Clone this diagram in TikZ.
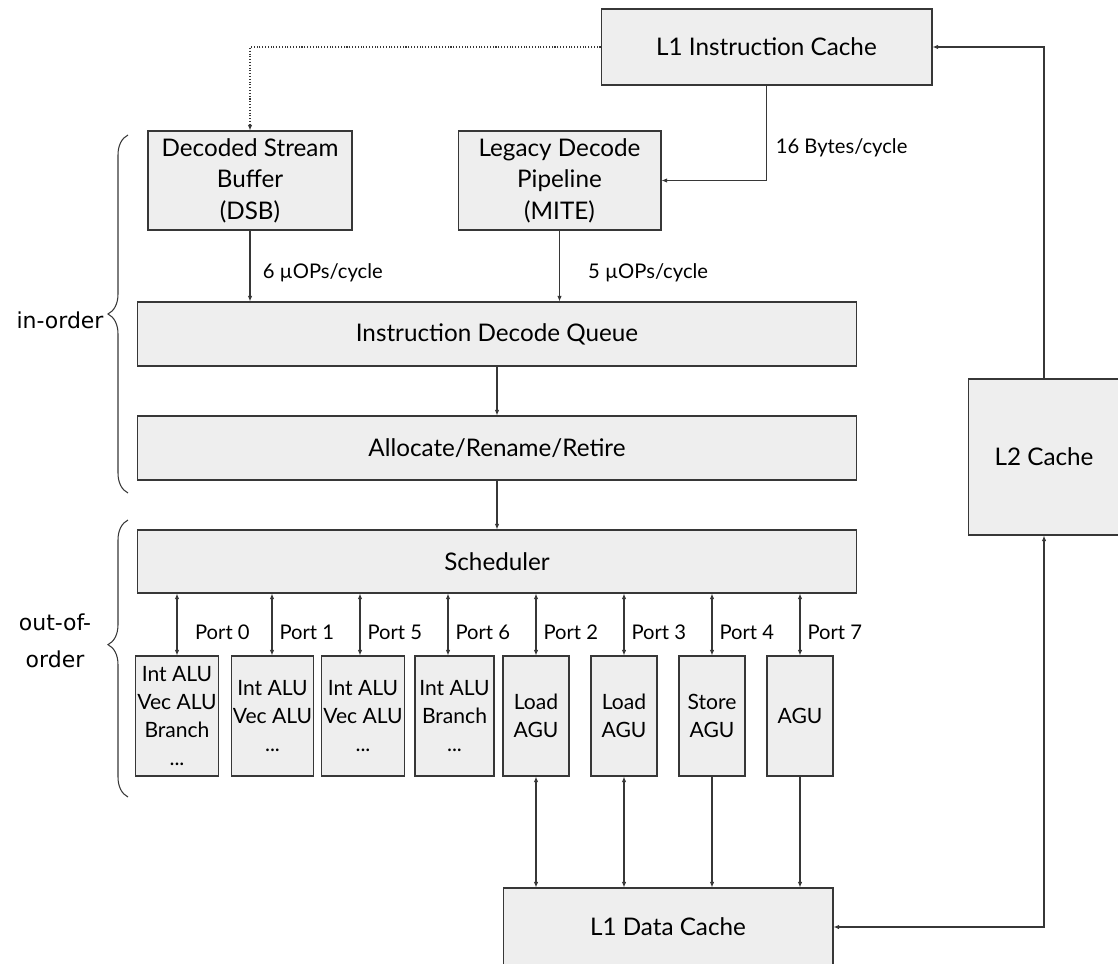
\documentclass[tikz,border=0pt]{standalone}
\usepackage{fontspec}
\setmainfont{Lato}
\newfontfamily\bracefont{DejaVu Sans}
\usetikzlibrary{arrows.meta,decorations.pathreplacing}

\definecolor{boxgray}{RGB}{238,238,238}
\definecolor{linegray}{RGB}{55,55,55}

\tikzset{
  block/.style={draw=linegray, fill=boxgray, line width=0.6pt, align=center,
    inner sep=1pt, font=\fontsize{13.8}{18}\selectfont},
  execunit/.style={block, minimum height=2.4cm, font=\fontsize{12}{15.8}\selectfont},
  rate/.style={font=\fontsize{11.5}{14}\selectfont, inner sep=2pt},
  bracelabel/.style={font=\bracefont\fontsize{12.5}{21}\selectfont, align=center, inner sep=0pt},
  bracket/.style={draw=linegray, line width=0.6pt, decorate,
    decoration={brace, amplitude=0.4cm}}
}

\begin{document}
\begin{tikzpicture}[x=0.02cm, y=-0.02cm, line width=0.6pt, draw=linegray,
    >={Latex[length=3.2pt,width=2.6pt]}]
    \useasboundingbox (0,0) rectangle (1118,963); % keeps the page size

    % front end
    \node[block, minimum width=6.62cm, minimum height=1.52cm] (L1I) at (766.5,47) {L1 Instruction Cache};
    \node[block, minimum width=4.08cm, minimum height=1.98cm] (DSB) at (250,180.5) {Decoded Stream\\Buffer\\(DSB)};
    \node[block, minimum width=4.06cm, minimum height=1.98cm] (MITE) at (559.5,180.5) {Legacy Decode\\Pipeline\\(MITE)};

    % in-order part
    \node[block, minimum width=14.4cm, minimum height=1.28cm] (IDQ) at (497,334) {Instruction Decode Queue};
    \node[block, minimum width=14.4cm, minimum height=1.28cm] (ARR) at (497,448) {Allocate/Rename/Retire};
    \node[block, minimum width=14.4cm, minimum height=1.26cm] (Sched) at (497,561.5) {Scheduler};

    % caches
    \node[block, minimum width=3.04cm, minimum height=3.12cm] (L2) at (1044,457) {L2 Cache};
    \node[block, minimum width=6.6cm, minimum height=1.56cm] (L1D) at (668,927) {L1 Data Cache};

    % execution units behind the ports
    \foreach \name/\cx/\w/\txt in {
        u0/177/1.6/{Int ALU\\Vec ALU\\Branch\\...},
        u1/272.5/1.58/{Int ALU\\Vec ALU\\...},
        u5/363/1.6/{Int ALU\\Vec ALU\\...},
        u6/454.5/1.58/{Int ALU\\Branch\\...},
        u2/536/1.32/{Load\\AGU},
        u3/624/1.32/{Load\\AGU},
        u4/712/1.32/{Store\\AGU},
        u7/800/1.32/{AGU}}{
      \node[execunit, minimum width=\w cm] (\name) at (\cx,716) {\txt};
    }

    % ports
    \foreach \u/\px/\p/\dx in {u0/177/0/8, u1/272/1/2, u5/360/5/2, u6/448/6/2,
                              u2/536/2/2, u3/624/3/2, u4/712/4/2, u7/800/7/2}{
      \draw[<->] (Sched.south -| \px,0) -- (\u.north -| \px,0)
        node[rate, pos=0.63, right=\dx pt] (port\p) {Port \p};
    }

    % instruction fetch and decode paths
    \draw[->, densely dotted] (L1I.west) -| (DSB.north);
    \draw[->] (L1I.south) |- node[rate, pos=0.33, right=3pt] (fetch) {16 Bytes/cycle} (MITE.east);
    \draw[->] (DSB.south) -- (DSB.south |- IDQ.north)
        node[rate, pos=0.6, right=5pt] (dsbrate) {6 µOPs/cycle};
    \draw[->] (MITE.south) -- (MITE.south |- IDQ.north)
        node[rate, pos=0.6, right=14pt] (miterate) {5 µOPs/cycle};
    \draw[->] (IDQ.south) -- (ARR.north);
    \draw[->] (ARR.south) -- (Sched.north);

    % memory side
    \foreach \u/\tip in {u2/<->, u3/<->, u4/->, u7/->}{
      \draw[\tip] (\u.south) -- (\u.south |- L1D.north);
    }
    \draw[->] (L2.north) |- (L1I.east);
    \draw[<->] (L1D.east) -| (L2.south);

    % braces
    \draw[bracket] (128,493) -- (128,135);
    \node[bracelabel, anchor=east] (inorder) at (104,320) {in-order};
    \draw[bracket, decoration={aspect=0.55}] (128,797) -- (128,520);
    \node[bracelabel] (outorder) at (55,641) {out-of-\\order};
\end{tikzpicture}
\end{document}
